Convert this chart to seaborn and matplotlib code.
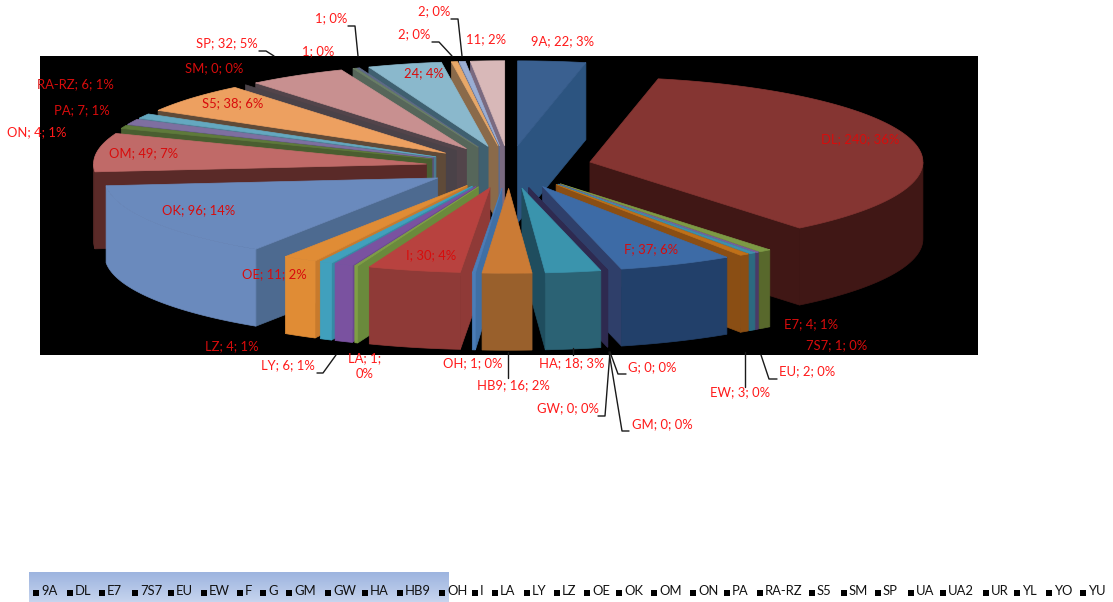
#!/usr/bin/python
# exploded 3D style pie, drawn as prisms seen from above
import numpy as np
import matplotlib
matplotlib.use("Agg")
import matplotlib.pyplot as plt
import seaborn as sns
from matplotlib.colors import LinearSegmentedColormap

categories = ["9A", "DL", "E7", "7S7", "EU", "EW", "F", "G", "GM", "GW", "HA", "HB9", "OH", "I", "LA", "LY",
              "LZ", "OE", "OK", "OM", "ON", "PA", "RA-RZ", "S5", "SM", "SP", "UA", "UA2", "UR", "YL", "YO", "YU"]
values = [22, 240, 4, 1, 2, 3, 37, 0, 0, 0, 18, 16, 1, 30, 1, 6,
          4, 11, 96, 49, 4, 7, 6, 38, 0, 32, 1, 1, 24, 2, 2, 11]
# these slices have only value and percent on their label
no_name = ["UA", "UA2", "UR", "YL", "YO", "YU"]

top_colors = ["#3a6090", "#853532", "#7d9a45", "#7a5fa0", "#3f8faa", "#c07018", "#3d6ba6", "#2e2a50",
              "#2e2a50", "#2e2a50", "#3a94ad", "#cb7b35", "#4a7db8", "#b8423f", "#7f9f45", "#7a52a0",
              "#40a0bd", "#e08c35", "#6a8abd", "#c06a68", "#5e7a3a", "#7e6fa0", "#64a8c0", "#eda060",
              "#4a4248", "#c89090", "#6a7f66", "#5f6a88", "#8ab8cc", "#e8a868", "#9aaed4", "#d8b8b8"]
wall_colors = ["#2c5480", "#401715", "#58682c", "#4a3a68", "#2c6a80", "#8a4e14", "#2f3f6a", "#2e2a50",
               "#2e2a50", "#2e2a50", "#1f4d5e", "#99602c", "#3f6fa5", "#8f3a37", "#6a8a3c", "#6a4690",
               "#358aa5", "#c87a2c", "#4d6a90", "#5a2a28", "#4a5e30", "#5a5278", "#4a7a90", "#5f4a38",
               "#4a4248", "#52444a", "#56665a", "#46566a", "#3f6070", "#8a6a4a", "#5c6a90", "#7a6a80"]
outer_colors = ["#2c5480", "#401715", "#58682c", "#4a3a68", "#2c6a80", "#8a4e14", "#22406a", "#2e2a50",
                "#2e2a50", "#2e2a50", "#2b6274", "#99602c", "#4a7db8", "#8f3a37", "#7f9f45", "#7a52a0",
                "#40a0bd", "#e08c35", "#6a8abd", "#5a2a28", "#4a5e30", "#5a5278", "#4a7a90", "#5f4a38",
                "#4a4248", "#52444a", "#56665a", "#46566a", "#3f6070", "#8a6a4a", "#5c6a90", "#7a6a80"]

legend_x = [36, 70, 102, 135, 171, 204, 240, 263, 289, 328, 365, 400, 442, 475, 495, 527,
            557, 587, 619, 654, 693, 727, 760, 812, 844, 878, 911, 943, 986, 1017, 1049, 1083]

# label centres, in figure pixels
label_pos = {"9A": (563, 41), "DL": (860, 139), "E7": (811, 324), "7S7": (837, 345), "EU": (807, 371),
             "EW": (740, 392), "F": (651, 249), "G": (652, 367), "GM": (662, 424), "GW": (568, 408),
             "HA": (572, 363), "HB9": (513, 385), "OH": (473, 363), "I": (431, 255), "LA": (365, 366),
             "LY": (288, 365), "LZ": (232, 346), "OE": (274, 274), "OK": (199, 210), "OM": (144, 153),
             "ON": (37, 132), "PA": (82, 110), "RA-RZ": (75, 84), "S5": (233, 103), "SM": (214, 68),
             "SP": (227, 43), "UA": (318, 51), "UA2": (331, 18), "UR": (424, 73), "YL": (434, 11),
             "YO": (414, 34), "YU": (486, 39)}
dark_labels = ["DL", "E7", "7S7", "F", "I", "LZ", "OE", "OK", "OM", "PA", "RA-RZ", "S5", "SM", "UR"]

leaders = [[(259, 51), (266, 51), (274, 56)], [(348, 26), (355, 26), (358, 56)],
           [(432, 42), (439, 42), (452, 56)], [(451, 19), (458, 19), (462, 56)],
           [(317, 373), (323, 373), (336, 355)], [(508, 352), (508, 378)], [(573, 348), (573, 355)],
           [(610, 352), (618, 374), (626, 374)], [(610, 352), (605, 416), (598, 416)],
           [(609, 352), (622, 431), (629, 431)], [(745, 352), (745, 387)],
           [(761, 355), (769, 379), (777, 379)]]

# pie geometry in pixels
cx, cy = 509, 167
rx, ry = 333, 85
depth = 77
explode = 0.25

sns.set_theme(style="white")
plt.rcParams["font.family"] = ["Lato", "DejaVu Sans"]

fig = plt.figure(figsize=(11.13, 6.02), dpi=100)
ax = fig.add_axes([0, 0, 1, 1])
ax.set_xlim(0, 1113)
ax.set_ylim(602, 0)
ax.axis("off")

# plot area
ax.fill([40, 978, 978, 40], [56, 56, 355, 355], color="black", lw=0, zorder=1)

total = sum(values)
edges = np.concatenate([[0], np.cumsum(values)]) / total * 2 * np.pi


def rim(t, ox, oy):
    return ox + rx * np.sin(t), oy - ry * np.cos(t)


mids = (edges[:-1] + edges[1:]) / 2
order = np.argsort(-np.cos(mids))
for z, i in enumerate(order):
    a, b = edges[i], edges[i + 1]
    ox = cx + explode * rx * np.sin(mids[i])
    oy = cy - explode * ry * np.cos(mids[i])
    zz = 2 + z * 0.01
    # side walls that look toward the viewer
    for t, show in ((a, np.sin(a) < -1e-9), (b, np.sin(b) > 1e-9)):
        if show:
            ex, ey = rim(t, ox, oy)
            ax.fill([ox, ex, ex, ox], [oy, ey, ey + depth, oy + depth], color=wall_colors[i], lw=0.5, zorder=zz)
    # curved wall, front half only
    lo, hi = max(a, np.pi / 2), min(b, 3 * np.pi / 2)
    if hi > lo:
        t = np.linspace(lo, hi, 60)
        ex, ey = rim(t, ox, oy)
        ax.fill(np.r_[ex, ex[::-1]], np.r_[ey, ey[::-1] + depth], color=outer_colors[i], lw=0.5, zorder=zz)
    if values[i] > 0:
        t = np.linspace(a, b, 100)
        ex, ey = rim(t, ox, oy)
        ax.fill(np.r_[ox, ex], np.r_[oy, ey], color=top_colors[i], lw=0.5, zorder=zz)

for pts in leaders:
    xs, ys = zip(*pts)
    ax.plot(xs, ys, color="#1a1a1a", lw=1.0, zorder=4)

for name, val in zip(categories, values):
    pct = round(val / total * 100)
    txt = f"{val}; {pct}%" if name in no_name else f"{name}; {val}; {pct}%"
    if name == "LA":
        txt = f"{name}; {val};\n{pct}%"
    x, y = label_pos[name]
    ax.text(x, y, txt, ha="center", va="center", fontsize=9.4, linespacing=1.45,
            color="#d80c0c" if name in dark_labels else "#ff1a1a", zorder=5)

# legend band and entries
band = LinearSegmentedColormap.from_list("band", ["#9db4df", "#c6d4ee"])
ax.imshow(np.linspace(0, 1, 30).reshape(-1, 1), cmap=band, extent=(29, 449, 602, 572), aspect="auto", zorder=1)
ax.set_xlim(0, 1113)
ax.set_ylim(602, 0)
sns.scatterplot(x=legend_x, y=[593] * len(legend_x), marker="s", color="black", s=20, linewidth=0, ax=ax,
                legend=False, zorder=6)
for name, x in zip(categories, legend_x):
    ax.text(x + 5, 591, name, ha="left", va="center", fontsize=9.4, color="#111111", zorder=6)

fig.savefig("out.png", dpi=100)
